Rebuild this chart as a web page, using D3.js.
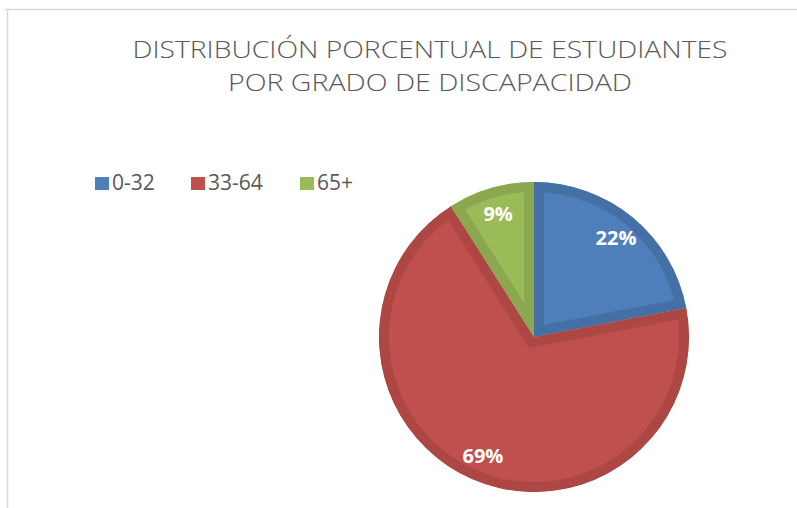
<!DOCTYPE html>
<html>
<head>
<meta charset="utf-8">
<script src="https://cdn.jsdelivr.net/npm/d3@7"></script>
<style>
  html, body { margin: 0; padding: 0; background: #fff; }
  svg { display: block; }
</style>
</head>
<body>
<svg id="chart" width="797" height="508"></svg>
<script>
// ---- data ----
const categories = ["0-32", "33-64", "65+"];
const values = [22, 69, 9];
const labels = ["22%", "69%", "9%"];
const titleLines = ["DISTRIBUCIÓN PORCENTUAL DE ESTUDIANTES", "POR GRADO DE DISCAPACIDAD"];
const fillColors = ["#4F7FBA", "#C0504D", "#9BBB59"];
const edgeColors = ["#4570A6", "#AD4744", "#8BA74F"];

const svg = d3.select("#chart");
const W = 797, H = 508;

// chart area border (top and left visible)
svg.append("line").attr("x1", 5).attr("x2", W).attr("y1", 9.5).attr("y2", 9.5)
  .attr("stroke", "#d9d9d9").attr("stroke-width", 1.5);
svg.append("line").attr("x1", 7.5).attr("x2", 7.5).attr("y1", 9).attr("y2", H)
  .attr("stroke", "#d9d9d9").attr("stroke-width", 1.5);

// title
const title = svg.append("text")
  .attr("text-anchor", "middle")
  .attr("font-family", "'Open Sans', sans-serif")
  .attr("font-weight", 300)
  .attr("font-size", 23.5)
  .attr("fill", "#595959");
const titleWidths = [595, 404];
titleLines.forEach((t, i) => {
  title.append("tspan").attr("x", 430).attr("y", 58 + i * 33)
    .attr("textLength", titleWidths[i]).attr("lengthAdjust", "spacingAndGlyphs")
    .text(t);
});

// legend
const legendX = [95, 191, 300];
const legend = svg.append("g");
categories.forEach((c, i) => {
  legend.append("rect").attr("x", legendX[i]).attr("y", 177)
    .attr("width", 14).attr("height", 13).attr("fill", fillColors[i]);
  legend.append("text").attr("x", legendX[i] + 17).attr("y", 190)
    .attr("font-family", "'Open Sans', sans-serif").attr("font-size", 21)
    .attr("fill", "#595959").text(c);
});

// pie
const cx = 534, cy = 337, r = 155;
const pie = d3.pie().sort(null).value(d => d)(values);
const arc = d3.arc().innerRadius(0).outerRadius(r);
const labelArc = d3.arc().innerRadius(r * 0.83).outerRadius(r * 0.83);
const g = svg.append("g").attr("transform", `translate(${cx},${cy})`);
const defs = svg.append("defs");

pie.forEach((p, i) => {
  defs.append("clipPath").attr("id", "clip" + i)
    .append("path").attr("d", arc(p));
  g.append("path").attr("d", arc(p))
    .attr("fill", fillColors[i])
    .attr("stroke", edgeColors[i])
    .attr("stroke-width", 20)
    .attr("stroke-linejoin", "miter")
    .attr("clip-path", `url(#clip${i})`);
});

pie.forEach((p, i) => {
  const [lx, ly] = labelArc.centroid(p);
  g.append("text").attr("x", lx).attr("y", ly)
    .attr("text-anchor", "middle").attr("dominant-baseline", "central")
    .attr("font-family", "'Open Sans', sans-serif").attr("font-weight", "bold")
    .attr("font-size", 20).attr("fill", "#ffffff")
    .text(labels[i]);
});
</script>
</body>
</html>
